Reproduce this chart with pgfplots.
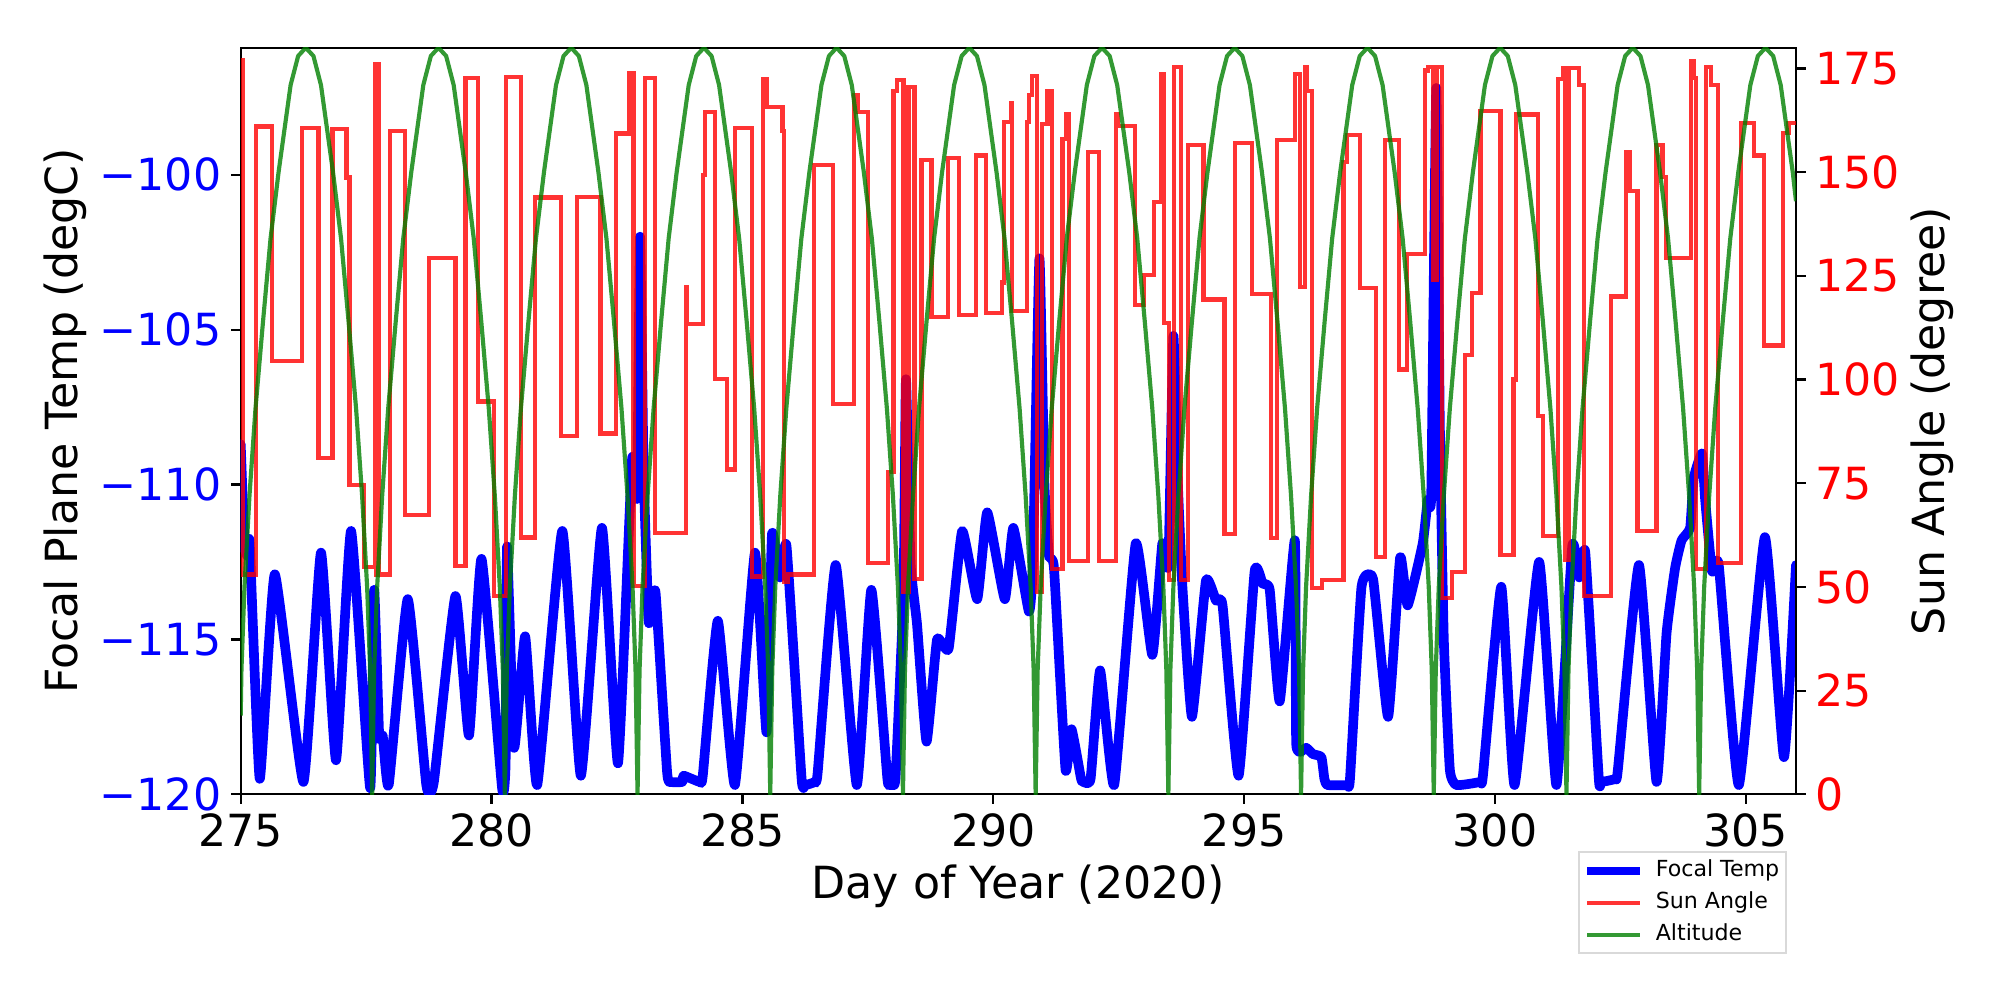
\documentclass[border=0pt]{standalone}
\usepackage{fontspec}
\setmainfont{DejaVu Sans}
\usepackage{pgfplots}
\pgfplotsset{compat=1.18}
\definecolor{mplgreen}{RGB}{0,128,0}
\begin{document}
\begin{tikzpicture}
\pgfplotsset{
  every axis/.append style={
    scale only axis, width=19.753cm, height=9.482cm,
    xmin=275, xmax=306.0,
    /pgf/number format/assume math mode=true,
    tick label style={font=\fontsize{16}{19}\selectfont},
    label style={font=\fontsize{16}{19}\selectfont},
    tick align=outside, major tick length=3.5pt,
    every tick/.style={black, line width=0.8pt},
    axis line style={line width=0.8pt},
  }
}
\begin{axis}[
  at={(0,0)}, anchor=south west,
  ymin=-120, ymax=-95.9,
  xtick={275,280,285,290,295,300,305},
  ytick={-120,-115,-110,-105,-100},
  yticklabels={−120,−115,−110,−105,−100},
  xtick pos=bottom, ytick pos=left,
  yticklabel style={blue},
  xlabel={Day of Year (2020)},
  ylabel={Focal Plane Temp (degC)},
  xlabel style={at={(axis description cs:0.5,-0.123)}, anchor=center},
  ylabel style={at={(axis description cs:-0.1125,0.5)}, anchor=center},
]
\addplot[blue, line width=3.5pt, line join=round, line cap=round, smooth, tension=0.25] coordinates {
(275.00,-108.7) (275.04,-110.5) (275.08,-112.0) (275.13,-112.3) (275.18,-111.9)
(275.38,-119.5) (275.68,-112.9) (276.25,-119.6) (276.60,-112.2) (276.90,-118.9)
(277.20,-111.5) (277.58,-119.8) (277.66,-113.4) (277.76,-118.1) (277.83,-118.1)
(277.95,-119.7) (278.33,-113.7) (278.70,-119.7) (278.85,-119.6) (279.28,-113.6)
(279.55,-118.1) (279.80,-112.4) (280.21,-119.8) (280.28,-119.0) (280.31,-112.0)
(280.45,-118.5) (280.67,-114.9) (280.91,-119.7) (281.41,-111.5) (281.78,-119.4)
(282.20,-111.4) (282.52,-119.0) (282.80,-109.2) (282.90,-110.4) (282.96,-102.0)
(283.03,-109.5) (283.13,-114.4) (283.20,-114.0) (283.27,-113.5) (283.50,-119.3)
(283.58,-119.6) (283.80,-119.6) (283.83,-119.4) (284.15,-119.6) (284.21,-119.4) (284.51,-114.4) (284.85,-119.7)
(285.25,-112.2) (285.48,-118.0) (285.59,-111.6) (285.75,-113.0) (285.88,-112.0)
(286.18,-119.5) (286.25,-119.7) (286.44,-119.6) (286.50,-119.3) (286.86,-112.6) (287.28,-119.7) (287.57,-113.4)
(287.89,-119.5) (287.95,-119.6) (288.05,-119.5) (288.21,-113.5) (288.26,-106.6) (288.35,-112.5)
(288.48,-114.5) (288.67,-118.3) (288.88,-115.0) (289.11,-115.3) (289.38,-111.5)
(289.68,-113.7) (289.88,-110.9) (290.23,-113.7) (290.40,-111.4) (290.71,-114.1)
(290.79,-112.5) (290.92,-102.7) (291.02,-110.0) (291.11,-112.3) (291.21,-112.7)
(291.44,-119.2) (291.56,-117.9) (291.75,-119.5) (291.80,-119.6) (291.94,-119.5) (292.13,-116.0)
(292.41,-119.7) (292.84,-111.9) (293.17,-115.5) (293.37,-111.9) (293.49,-112.6)
(293.59,-105.2) (293.68,-110.0) (293.77,-113.3) (293.96,-117.5) (294.24,-113.1)
(294.44,-113.75) (294.57,-113.9) (294.89,-119.4) (295.21,-112.8) (295.37,-113.2)
(295.51,-113.4) (295.71,-117.0) (296.01,-111.8) (296.04,-118.4) (296.24,-118.5)
(296.37,-118.7) (296.54,-118.8) (296.60,-119.5) (296.66,-119.7) (297.05,-119.7) (297.11,-119.5) (297.34,-113.3)
(297.57,-113.05) (297.87,-117.5) (298.11,-112.35) (298.26,-113.9) (298.56,-111.9)
(298.66,-110.5) (298.73,-110.3) (298.83,-97.2) (298.90,-108.0) (298.98,-115.0)
(299.10,-119.2) (299.23,-119.7) (299.70,-119.6) (299.76,-119.4) (300.125,-113.3) (300.39,-119.7)
(300.88,-112.5) (301.225,-119.7) (301.54,-112.0) (301.68,-113.0) (301.80,-112.2)
(302.07,-119.5) (302.12,-119.6) (302.40,-119.5) (302.45,-119.2) (302.87,-112.6) (303.22,-119.6) (303.42,-114.8)
(303.59,-112.7) (303.72,-111.8) (303.89,-111.4) (303.96,-109.8) (304.125,-109.0)
(304.19,-110.5) (304.325,-112.8) (304.46,-112.6) (304.86,-119.7) (305.38,-111.7)
(305.76,-118.8) (306.00,-112.6)
};
\end{axis}
\begin{axis}[
  at={(0,0)}, anchor=south west,
  ymin=0, ymax=180,
  axis x line=none,
  axis y line*=right,
  ytick={0,25,50,75,100,125,150,175},
  yticklabel style={red},
  ylabel={Sun Angle (degree)},
  ylabel style={at={(axis description cs:1.0875,0.5)}, anchor=center},
  legend cell align=left,
  legend image code/.code={\draw[#1] (0pt,0pt) -- (19pt,0pt);},
  legend style={at={(axis description cs:0.9942,-0.0759)}, anchor=north east,
    font=\fontsize{8}{9.6}\selectfont, draw=black!15, line width=0.8pt,
    fill=white, row sep=2.2pt, inner xsep=1.5pt, inner ysep=2.0pt,
    nodes={inner sep=0.9pt},
    /tikz/every odd column/.append style={column sep=3.5pt}},
]
\addlegendimage{blue, line width=2.9pt}
\addlegendentry{Focal Temp}
\addlegendimage{red, opacity=0.8, line width=1.5pt}
\addlegendentry{Sun Angle}
\addplot[red, opacity=0.8, line width=1.5pt, const plot, forget plot] coordinates {
(275.00,177) (275.05,53) (275.31,161) (275.63,104.5) (276.23,160.7) (276.55,81)
(276.83,160.4) (277.11,148.7) (277.17,74.6) (277.45,54.8) (277.67,176) (277.70,53)
(277.72,176) (277.76,53) (277.97,160) (278.28,67.4) (278.75,129.2) (279.28,55)
(279.48,172.7) (279.73,94.7) (280.05,47.9) (280.28,173) (280.59,61.9) (280.87,143.9)
(281.38,86.4) (281.70,144.1) (282.17,87) (282.48,159.3) (282.75,174) (282.83,50.2)
(283.05,172.7) (283.26,63.1) (283.87,122.3) (283.90,113.3) (284.21,149.4) (284.25,164.4)
(284.46,100.2) (284.70,78.3) (284.85,160.7) (285.19,52.5) (285.41,172.4) (285.48,165.8)
(285.80,160) (285.83,51.1) (285.91,53) (286.43,151.8) (286.81,94.1) (287.23,168.5)
(287.30,164.4) (287.50,55.7) (287.91,77.8) (288.01,169.5) (288.08,172.2) (288.21,48.8)
(288.31,170.6) (288.43,52) (288.57,153) (288.77,115) (289.10,153.5) (289.31,115.6)
(289.65,154) (289.85,116) (290.18,123.4) (290.21,162.1) (290.35,166.7) (290.38,116.5)
(290.68,162) (290.71,168.5) (290.77,173.1) (290.87,48.8) (290.97,161.6) (291.08,169.6)
(291.17,54.3) (291.38,158) (291.46,164.1) (291.51,56.2) (291.88,154.9) (292.10,56.2)
(292.45,163.9) (292.48,161.2) (292.83,117.9) (293.01,125.3) (293.21,142.8) (293.35,173.6)
(293.41,113.7) (293.51,51.6) (293.61,175.4) (293.75,51.6) (293.88,156.6) (294.19,119.3)
(294.61,62.7) (294.81,157) (295.15,120.6) (295.53,61.8) (295.66,157.7) (296.01,173.6)
(296.11,122.3) (296.21,175.4) (296.25,169.5) (296.35,49.7) (296.55,51.6) (296.98,152.4)
(297.05,159) (297.31,122) (297.63,57.3) (297.81,157.7) (298.08,102.4) (298.25,130.3)
(298.61,174.5) (298.67,175.4) (298.77,124) (298.84,175.4) (298.94,47.4) (299.14,53.6)
(299.41,105.9) (299.54,120.8) (299.71,164.7) (300.11,57.6) (300.37,100) (300.42,163.9)
(300.86,91.2) (300.95,62.2) (301.26,172.4) (301.35,175.2) (301.39,56.6) (301.47,175.2)
(301.67,171) (301.77,47.9) (302.31,120) (302.61,154.9) (302.69,145.5) (302.84,63.4)
(303.22,156.6) (303.34,148.8) (303.41,129.4) (303.91,176.7) (303.97,172.7) (304.01,54.3)
(304.21,175.4) (304.31,171) (304.44,55.7) (304.91,161.9) (305.17,154) (305.37,108.2)
(305.74,159.5) (305.85,161.9) (306.00,161.9)
};
\addplot[mplgreen, opacity=0.8, line width=1.5pt, line join=round] coordinates {
(275.00,19) (275.015,30) (275.075,50) (275.175,72) (275.295,93) (275.445,114) (275.595,134)
(275.755,150) (275.995,171) (276.145,178) (276.2975,180) (276.45,178) (276.60,171) (276.84,150)
(277.00,134) (277.15,114) (277.30,93) (277.42,72) (277.52,50) (277.58,30) (277.62,0)
(277.66,30) (277.72,50) (277.82,72) (277.94,93) (278.09,114) (278.24,134) (278.40,150)
(278.64,171) (278.79,178) (278.9425,180) (279.095,178) (279.245,171) (279.485,150) (279.645,134)
(279.795,114) (279.945,93) (280.065,72) (280.165,50) (280.225,30) (280.265,0)
(280.305,30) (280.365,50) (280.465,72) (280.585,93) (280.735,114) (280.885,134) (281.045,150)
(281.285,171) (281.435,178) (281.5875,180) (281.74,178) (281.89,171) (282.13,150) (282.29,134)
(282.44,114) (282.59,93) (282.71,72) (282.81,50) (282.87,30) (282.91,0)
(282.95,30) (283.01,50) (283.11,72) (283.23,93) (283.38,114) (283.53,134) (283.69,150)
(283.93,171) (284.08,178) (284.2325,180) (284.385,178) (284.535,171) (284.775,150) (284.935,134)
(285.085,114) (285.235,93) (285.355,72) (285.455,50) (285.515,30) (285.555,0)
(285.595,30) (285.655,50) (285.755,72) (285.875,93) (286.025,114) (286.175,134) (286.335,150)
(286.575,171) (286.725,178) (286.8775,180) (287.03,178) (287.18,171) (287.42,150) (287.58,134)
(287.73,114) (287.88,93) (288.00,72) (288.10,50) (288.16,30) (288.20,0)
(288.24,30) (288.30,50) (288.40,72) (288.52,93) (288.67,114) (288.82,134) (288.98,150)
(289.22,171) (289.37,178) (289.5225,180) (289.675,178) (289.825,171) (290.065,150) (290.225,134)
(290.375,114) (290.525,93) (290.645,72) (290.745,50) (290.805,30) (290.845,0)
(290.885,30) (290.945,50) (291.045,72) (291.165,93) (291.315,114) (291.465,134) (291.625,150)
(291.865,171) (292.015,178) (292.1675,180) (292.32,178) (292.47,171) (292.71,150) (292.87,134)
(293.02,114) (293.17,93) (293.29,72) (293.39,50) (293.45,30) (293.49,0)
(293.53,30) (293.59,50) (293.69,72) (293.81,93) (293.96,114) (294.11,134) (294.27,150)
(294.51,171) (294.66,178) (294.8125,180) (294.965,178) (295.115,171) (295.355,150) (295.515,134)
(295.665,114) (295.815,93) (295.935,72) (296.035,50) (296.095,30) (296.135,0)
(296.175,30) (296.235,50) (296.335,72) (296.455,93) (296.605,114) (296.755,134) (296.915,150)
(297.155,171) (297.305,178) (297.4575,180) (297.61,178) (297.76,171) (298.00,150) (298.16,134)
(298.31,114) (298.46,93) (298.58,72) (298.68,50) (298.74,30) (298.78,0)
(298.82,30) (298.88,50) (298.98,72) (299.10,93) (299.25,114) (299.40,134) (299.56,150)
(299.80,171) (299.95,178) (300.1025,180) (300.255,178) (300.405,171) (300.645,150) (300.805,134)
(300.955,114) (301.105,93) (301.225,72) (301.325,50) (301.385,30) (301.425,0)
(301.465,30) (301.525,50) (301.625,72) (301.745,93) (301.895,114) (302.045,134) (302.205,150)
(302.445,171) (302.595,178) (302.7475,180) (302.90,178) (303.05,171) (303.29,150) (303.45,134)
(303.60,114) (303.75,93) (303.87,72) (303.97,50) (304.03,30) (304.07,0)
(304.11,30) (304.17,50) (304.27,72) (304.39,93) (304.54,114) (304.69,134) (304.85,150)
(305.09,171) (305.24,178) (305.3925,180) (305.545,178) (305.695,171) (305.935,150) (306.00,143)
};
\addlegendentry{Altitude}
\end{axis}
\pgfresetboundingbox
\path[use as bounding box] (-3.057cm,-2.612cm) rectangle (22.344cm,10.088cm);
\end{tikzpicture}
\end{document}
